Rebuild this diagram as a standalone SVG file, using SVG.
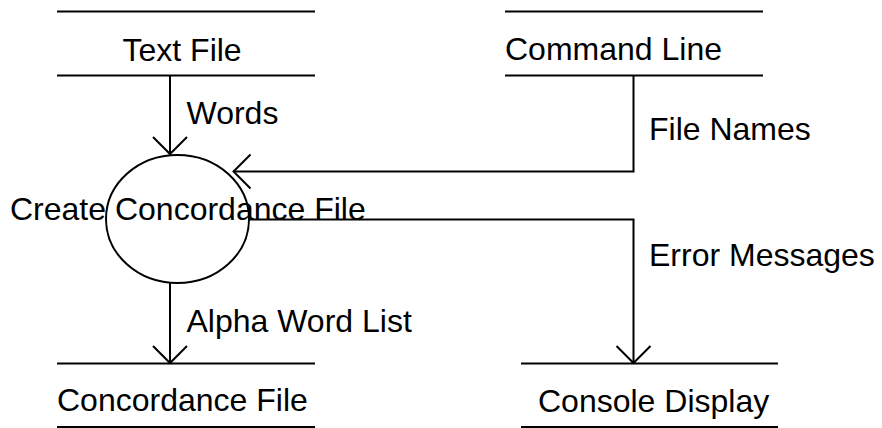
<svg xmlns="http://www.w3.org/2000/svg" width="882" height="428" viewBox="0 0 882 428">
<style>
.ln{stroke:#000;stroke-width:2;fill:none}
.t{font-family:"Liberation Sans",Arial,Helvetica,sans-serif;font-size:32px;fill:#000}
</style>
<defs>
<marker id="arr" viewBox="-20 -20 40 40" markerWidth="40" markerHeight="40" refX="0" refY="0" orient="auto" markerUnits="userSpaceOnUse">
<path d="M-17,-17 L0,0 L-17,17" fill="none" stroke="#000" stroke-width="2"/>
</marker>
</defs>
<rect width="882" height="428" fill="#fff"/>
<g id="text-file">
<line class="ln" x1="57" y1="11.5" x2="315" y2="11.5"/>
<line class="ln" x1="57" y1="75.5" x2="315" y2="75.5"/>
<text class="t" x="122.5" y="61">Text File</text>
</g>
<g id="command-line">
<line class="ln" x1="505" y1="11.5" x2="763" y2="11.5"/>
<line class="ln" x1="505" y1="75.5" x2="763" y2="75.5"/>
<text class="t" x="505" y="60">Command Line</text>
</g>
<g id="concordance-file">
<line class="ln" x1="57" y1="363.5" x2="315" y2="363.5"/>
<line class="ln" x1="57" y1="427" x2="315" y2="427"/>
<text class="t" x="57" y="411">Concordance File</text>
</g>
<g id="console-display">
<line class="ln" x1="521" y1="363.5" x2="778" y2="363.5"/>
<line class="ln" x1="521" y1="427" x2="778" y2="427"/>
<text class="t" x="538" y="411.5">Console Display</text>
</g>
<g id="create-concordance-file">
<ellipse class="ln" cx="177.5" cy="219" rx="71.5" ry="64"/>
<text class="t" x="10" y="219.5">Create Concordance File</text>
</g>
<g id="connectors">
<path class="ln" d="M170,76 V154" marker-end="url(#arr)"/>
<path class="ln" d="M633.5,76 V171.5 H233.5" marker-end="url(#arr)"/>
<path class="ln" d="M249,219.5 H633.5 V363" marker-end="url(#arr)"/>
<path class="ln" d="M170,283 V363" marker-end="url(#arr)"/>
<text class="t" x="186.5" y="124">Words</text>
<text class="t" x="649" y="139.5">File Names</text>
<text class="t" x="649" y="265.5">Error Messages</text>
<text class="t" x="186.5" y="331.5">Alpha Word List</text>
</g>
</svg>
